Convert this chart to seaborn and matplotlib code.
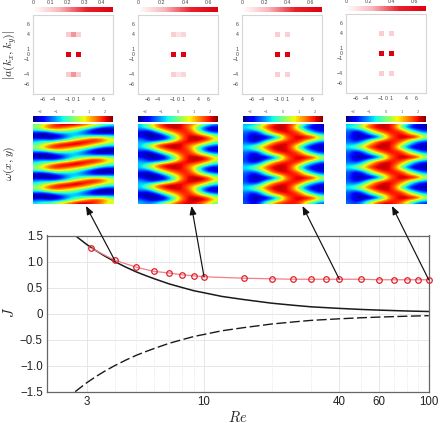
# -*- coding: utf-8 -*-
import numpy as np
import seaborn as sns
import matplotlib.pyplot as plt
from matplotlib.colors import LinearSegmentedColormap
from matplotlib.ticker import NullFormatter

# J vs Re
re_pts = [3.14, 4, 5, 6, 7, 8, 9, 10, 15, 20, 25, 30, 35, 40, 50, 60, 70, 80, 90, 100]
j_pts = [1.257, 1.027, 0.89, 0.81, 0.78, 0.745, 0.726, 0.707, 0.68, 0.668, 0.66, 0.66,
         0.66, 0.66, 0.66, 0.65, 0.65, 0.65, 0.65, 0.65]
re_line = [2.67, 2.8, 3, 3.3, 3.6, 4, 4.5, 5, 5.5, 6, 7, 8, 9, 10, 12, 15, 20, 25, 30, 40, 50, 60, 80, 100]
j_upper = [1.5, 1.43, 1.33, 1.21, 1.11, 1.0, 0.89, 0.8, 0.73, 0.67, 0.57, 0.5, 0.44, 0.4,
           0.33, 0.27, 0.2, 0.16, 0.13, 0.1, 0.08, 0.067, 0.05, 0.04]
j_lower = [-1.5, -1.43, -1.33, -1.21, -1.11, -1.0, -0.89, -0.8, -0.73, -0.67, -0.57, -0.5, -0.44, -0.4,
           -0.33, -0.27, -0.2, -0.16, -0.13, -0.1, -0.08, -0.067, -0.05, -0.04]

# spectrum |a(kx,ky)|: kx, ky, amplitude
modes_a = [(-1, 0, 0.47), (1, 0, 0.47), (-1, 4, 0.11), (0, 4, 0.19), (1, 4, 0.1),
           (-1, -4, 0.11), (0, -4, 0.19), (1, -4, 0.1)]
modes_b = [(-1, 0, 0.68), (1, 0, 0.68), (-1, 4, 0.15), (0, 4, 0.09), (1, 4, 0.13),
           (-1, -4, 0.15), (0, -4, 0.09), (1, -4, 0.13)]
modes_c = [(-1, 0, 0.7), (1, 0, 0.7), (-1, 4, 0.16), (1, 4, 0.15), (-1, -4, 0.16), (1, -4, 0.15)]
modes_d = [(-1, 0, 0.7), (1, 0, 0.7), (-1, 4, 0.16), (1, 4, 0.15), (-1, -4, 0.16), (1, -4, 0.15)]
spec_max = [0.47, 0.68, 0.7, 0.7]
spec_ticks = [[0, 0.1, 0.2, 0.3, 0.4], [0, 0.2, 0.4, 0.6], [0, 0.2, 0.4, 0.6], [0, 0.2, 0.4, 0.6]]
k_ticks = [-6, -4, -1, 0, 1, 4, 6]

# vorticity, one period in y read by eye (the picture repeats it four times)
omega_a = [[-0.2, 0.4, 1.2, 1.9, 2.2, 2.3, 2.2, 1.7, 1.2, 0.6, 0.1, -0.3],
           [0.2, 1.0, 1.8, 2.0, 1.8, 1.5, 1.1, 0.8, 0.3, -0.5, -1.2, -1.4],
           [-0.2, 0.3, 0.9, 1.1, 0.9, 0.6, 0.2, -0.5, -1.3, -2.1, -2.35, -2.35],
           [-1.4, -1.5, -1.0, -0.3, -0.3, -0.5, -0.8, -1.3, -1.9, -2.3, -2.35, -2.3],
           [-2.3, -2.35, -2.2, -1.7, -1.3, -0.9, -0.9, -1.2, -1.4, -1.6, -1.5, -1.5],
           [-2.2, -2.35, -2.35, -2.3, -1.7, -0.9, -0.5, -0.1, 0.2, 0.4, 0.3, -0.1],
           [-1.4, -1.3, -1.6, -1.4, -0.9, -0.2, 0.5, 1.2, 1.8, 1.9, 1.5, 0.7],
           [-0.7, -0.3, -0.2, 0.4, 1.0, 1.5, 2.1, 2.2, 2.0, 1.7, 1.1, 0.4]]
omega_b = [[-0.9, -0.1, 0.9, 1.8, 2.1, 2.2, 2.1, 1.7, 1.3, 0.6, -0.3, -1.0],
           [-0.8, 0.1, 1.1, 1.9, 2.2, 2.3, 2.1, 1.5, 0.6, -0.7, -1.7, -2.0],
           [-1.3, -1.2, -0.1, 1.0, 1.7, 2.0, 2.0, 1.8, 0.7, -1.0, -2.1, -2.3],
           [-1.8, -2.1, -1.4, -0.2, 0.9, 1.5, 1.9, 1.9, 1.2, -0.1, -1.2, -1.7],
           [-2.2, -2.35, -2.3, -1.6, -0.4, 0.7, 1.6, 2.0, 1.8, 1.0, 0.2, -0.5],
           [-1.7, -2.3, -2.35, -2.2, -1.5, -0.1, 1.3, 2.1, 2.3, 2.2, 1.6, 0.5],
           [-1.3, -1.8, -2.1, -1.8, -1.3, 0.1, 1.4, 2.1, 2.3, 2.2, 1.9, 0.8],
           [-0.9, -1.2, -0.9, -0.2, 0.7, 1.5, 2.0, 2.1, 2.0, 1.6, 0.8, -0.1]]
omega_c = [[-1.0, -1.0, -0.3, 0.9, 1.8, 2.1, 2.1, 1.6, 0.6, -0.8, -1.6, -2.0],
           [-0.7, -0.2, 0.7, 1.7, 2.2, 2.3, 2.1, 1.3, -0.5, -1.6, -2.2, -2.2],
           [-0.9, -0.7, 0.2, 1.2, 2.0, 2.2, 2.1, 1.5, 0.2, -1.2, -1.8, -2.1],
           [-1.3, -1.7, -1.2, 0.4, 1.6, 2.0, 2.1, 1.9, 1.4, -0.1, -1.2, -1.7],
           [-1.4, -2.1, -1.7, -0.7, 0.4, 1.2, 1.9, 2.0, 1.8, 0.9, 0.1, -0.8],
           [-1.5, -2.3, -2.3, -2.1, -1.5, -0.1, 1.5, 2.0, 2.2, 2.2, 1.7, 0.4],
           [-1.5, -2.2, -2.1, -1.4, -0.6, 0.5, 1.6, 2.0, 2.1, 1.5, 1.0, -0.1],
           [-1.4, -2.0, -1.5, 0.0, 1.2, 1.8, 2.0, 2.0, 1.7, 0.3, -0.7, -1.4]]
omega_d = [[-0.9, -0.8, 0.1, 1.2, 1.9, 2.2, 2.1, 1.5, 0.3, -1.0, -1.8, -2.1],
           [-0.6, 0.0, 0.9, 1.8, 2.2, 2.3, 2.1, 1.2, -0.7, -1.8, -2.3, -2.3],
           [-1.0, -1.0, -0.3, 0.9, 1.8, 2.1, 2.1, 1.6, 0.6, -0.8, -1.6, -2.0],
           [-1.4, -2.1, -1.5, -0.2, 1.0, 1.7, 2.0, 2.0, 1.7, 0.4, -0.6, -1.3],
           [-1.4, -2.2, -2.0, -1.3, -0.2, 0.7, 1.7, 2.0, 2.0, 1.3, 0.7, -0.3],
           [-1.5, -2.3, -2.35, -2.3, -1.8, -0.3, 1.4, 2.0, 2.3, 2.3, 2.0, 0.6],
           [-1.4, -2.1, -1.8, -0.9, 0.1, 1.0, 1.8, 2.0, 1.9, 1.1, 0.4, -0.6],
           [-1.3, -1.6, -0.9, 0.5, 1.6, 2.1, 2.1, 1.8, 1.2, -0.2, -1.3, -1.7]]
omega_ticks = [-2, -1, 0, 1, 2]

# arrows: Re, J of the tail
arrow_re = [4, 10, 40, 100]
arrow_j = [1.027, 0.707, 0.66, 0.65]

sns.set_theme(style="ticks")
plt.rcParams['font.family'] = ['Liberation Sans', 'DejaVu Sans']
plt.rcParams['mathtext.fontset'] = 'cm'

W, H = 440, 423
fig = plt.figure(figsize=(W / 100, H / 100), dpi=100)


def box(x0, y0, x1, y1):
    # pixel box (y from the top) to figure fractions
    return [x0 / W, 1 - y1 / H, (x1 - x0) / W, (y1 - y0) / H]


whitered = LinearSegmentedColormap.from_list("whitered", ["#ffffff", "#f7b5bb", "#e8202a", "#e0000f"])
lefts = [33, 138, 242, 346]
tops = [15, 15, 15, 14]

# spectra row
for i, modes in enumerate([modes_a, modes_b, modes_c, modes_d]):
    x0 = lefts[i]
    y0 = tops[i]
    ax = fig.add_axes(box(x0, y0, x0 + 80, y0 + 79))
    cax = fig.add_axes(box(x0, y0 - 8, x0 + 80, y0 - 2.5))
    grid = np.zeros((17, 17))
    for kx, ky, val in modes:
        grid[8 - ky, kx + 8] = val
    sns.heatmap(grid, ax=ax, cbar_ax=cax, cmap=whitered, vmin=0, vmax=spec_max[i],
                cbar_kws={'orientation': 'horizontal', 'ticks': spec_ticks[i]})
    ax.set_xlim(0.5, 16.5)
    ax.set_ylim(16.5, 0.5)
    ax.set_xticks([k + 8.5 for k in k_ticks])
    ax.set_yticks([8.5 - k for k in k_ticks])
    ax.set_xticklabels([str(k).replace('-', '\u2212') for k in k_ticks], rotation=0)
    ax.set_yticklabels([str(k).replace('-', '\u2212') for k in k_ticks], rotation=0)
    ax.tick_params(labelsize=3.8, length=0, pad=2.5, colors='#444444')
    for k in k_ticks:
        ax.axvline(k + 8.5, color='#eeeeee', lw=0.3, ls=':', zorder=0)
        ax.axhline(8.5 - k, color='#eeeeee', lw=0.3, ls=':', zorder=0)
    for s in ax.spines.values():
        s.set_visible(True)
        s.set_color('#d5d5d5')
        s.set_linewidth(0.8)
    cax.xaxis.tick_top()
    cax.tick_params(labelsize=3.8, length=0, pad=1.5, colors='#444444')
    cax.set_xticklabels([f"{t:g}" for t in spec_ticks[i]])

# vorticity row
for i, omega in enumerate([omega_a, omega_b, omega_c, omega_d]):
    x0 = lefts[i] + (1 if i == 2 else 0)
    ax = fig.add_axes(box(x0, 124, x0 + 80, 204))
    cax = fig.add_axes(box(x0, 116, x0 + 80, 122))
    field = np.tile(np.array(omega), (4, 1))
    im = ax.imshow(field, cmap='jet', vmin=-2.45, vmax=2.5, aspect='auto',
                   interpolation='bicubic', interpolation_stage='data')
    ax.set_xticks([])
    ax.set_yticks([])
    for s in ax.spines.values():
        s.set_visible(False)
    cb = fig.colorbar(im, cax=cax, orientation='horizontal', ticks=omega_ticks)
    cb.outline.set_visible(False)
    cax.xaxis.tick_top()
    cax.tick_params(labelsize=3, length=0, pad=1.5, colors='#666666')
    cax.set_xticklabels([str(t).replace('-', '\u2212') for t in omega_ticks])

# J vs Re
ax = fig.add_axes(box(47, 235.5, 428.7, 391.7))
sns.lineplot(x=re_line, y=j_upper, ax=ax, color='#1a1a1a', lw=1.1, estimator=None, sort=False)
sns.lineplot(x=re_line, y=j_lower, ax=ax, color='#1a1a1a', lw=1.0, estimator=None, sort=False)
ax.lines[1].set_dashes((7.2, 2.5))
sns.lineplot(x=re_pts, y=j_pts, ax=ax, color='#f08088', lw=0.9, estimator=None, sort=False, zorder=3)
ax.plot(re_pts, j_pts, ls='none', marker='o', ms=4, mfc='none', mec='#e0202c', mew=0.9,
        clip_on=False, zorder=4)
ax.set_xscale('log')
ax.set_xlim(2, 100)
ax.set_ylim(-1.5, 1.5)
ax.set_xticks([3, 10, 40, 60, 100])
ax.set_xticklabels(['3', '10', '40', '60', '100'])
ax.set_xticks([4, 5, 6, 7, 8, 9, 20, 30, 50, 70, 80, 90], minor=True)
ax.xaxis.set_minor_formatter(NullFormatter())
ax.set_yticks([-1.5, -1, -0.5, 0, 0.5, 1, 1.5])
ax.set_yticklabels(['\u22121.5', '\u22121.0', '\u22120.5', '0', '0.5', '1.0', '1.5'])
ax.tick_params(axis='both', which='both', length=0, labelsize=8.3, pad=3, colors='#222222')
ax.grid(True, which='major', color='#e6e6e6', lw=0.7)
ax.grid(True, which='minor', axis='x', color='#d8d8d8', lw=0.5, ls=':')
ax.set_axisbelow(True)
for s in ax.spines.values():
    s.set_color('#666666')
    s.set_linewidth(0.9)

# arrows from the curve up to the fields
tips = [(86, 206), (191.5, 206), (302.5, 206), (392, 206)]
for r, j, tip in zip(arrow_re, arrow_j, tips):
    ax.annotate('', xy=(tip[0] / W, 1 - tip[1] / H), xycoords='figure fraction',
                xytext=(r, j), textcoords='data', annotation_clip=False, zorder=6,
                arrowprops=dict(arrowstyle='-|>,head_length=0.42,head_width=0.17', color='#111111',
                                lw=0.85, shrinkA=0, shrinkB=0))

fig.text(10 / W, 1 - 55 / H, r'$|a(k_x,k_y)|$', rotation=90, ha='center', va='center', fontsize=8.5, color='#222222')
fig.text(9 / W, 1 - 163 / H, r'$\omega(x,y)$', rotation=90, ha='center', va='center', fontsize=8.5, color='#222222')
fig.text(9 / W, 1 - 312 / H, r'$J$', rotation=90, ha='center', va='center', fontsize=10.5, color='#222222')
fig.text(238 / W, 1 - 417 / H, r'$Re$', ha='center', va='center', fontsize=10.5, color='#222222')

fig.savefig('out.png', dpi=100)
